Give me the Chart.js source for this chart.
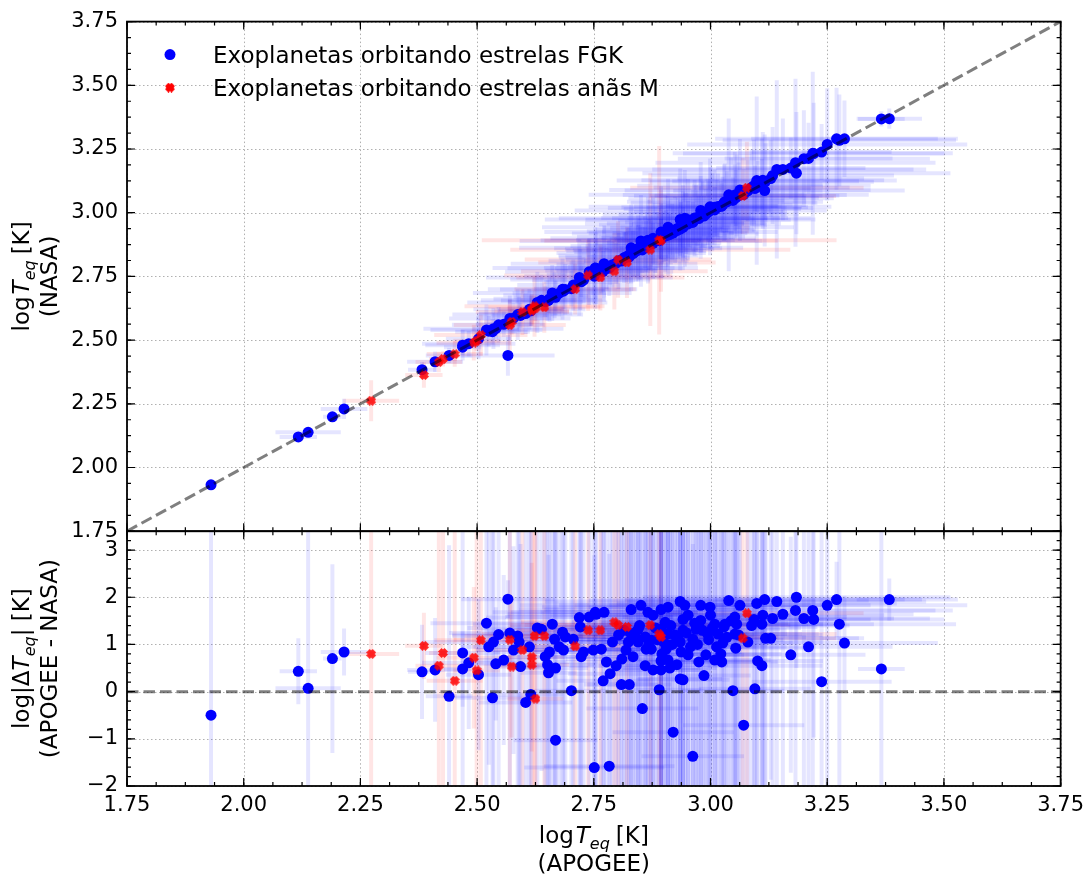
<!DOCTYPE html>
<html>
<head>
<meta charset="utf-8">
<script src="https://cdn.jsdelivr.net/npm/chart.js@4.4.1/dist/chart.umd.min.js"></script>
<style>
  html, body { margin: 0; padding: 0; background: #fff; }
  #wrap { width: 1091px; height: 884px; }
</style>
</head>
<body>
<div id="wrap"><canvas id="teq-chart" width="1091" height="884"></canvas></div>
<script>
// axis limits
const xMin = 1.75, xMax = 3.75;
const nasaMin = 1.75, nasaMax = 3.75;
const deltaMin = -2, deltaMax = 3.4;

// planets around FGK stars: log Teq (APOGEE), log Teq (NASA), log|dTeq| and their errors
const fgkApogee = [
  1.930, 2.117, 2.138, 2.190, 2.215, 2.382, 2.410, 2.440, 2.469, 2.469,
  2.482, 2.503, 2.520, 2.525, 2.533, 2.535, 2.540, 2.546, 2.557, 2.566,
  2.570, 2.578, 2.587, 2.590, 2.593, 2.604, 2.612, 2.615, 2.629, 2.638,
  2.646, 2.651, 2.653, 2.655, 2.661, 2.666, 2.668, 2.668, 2.676, 2.683,
  2.685, 2.689, 2.702, 2.706, 2.719, 2.721, 2.723, 2.728, 2.740, 2.749,
  2.751, 2.753, 2.755, 2.766, 2.770, 2.772, 2.777, 2.783, 2.785, 2.798,
  2.809, 2.810, 2.819, 2.824, 2.826, 2.830, 2.830, 2.834, 2.841, 2.845,
  2.845, 2.851, 2.854, 2.860, 2.860, 2.862, 2.866, 2.873, 2.873, 2.877,
  2.877, 2.890, 2.894, 2.894, 2.894, 2.894, 2.896, 2.903, 2.905, 2.909,
  2.909, 2.909, 2.913, 2.920, 2.924, 2.928, 2.935, 2.935, 2.935, 2.937,
  2.941, 2.941, 2.941, 2.945, 2.952, 2.952, 2.962, 2.962, 2.969, 2.975,
  2.979, 2.979, 2.986, 2.990, 2.994, 2.999, 3.000, 3.009, 3.009, 3.016,
  3.022, 3.024, 3.026, 3.029, 3.031, 3.039, 3.048, 3.052, 3.052, 3.054,
  3.056, 3.063, 3.071, 3.093, 3.095, 3.099, 3.101, 3.110, 3.110, 3.112,
  3.116, 3.118, 3.129, 3.133, 3.142, 3.155, 3.172, 3.182, 3.184, 3.200,
  3.210, 3.219, 3.221, 3.238, 3.250, 3.270, 3.276, 3.287, 3.366, 3.383,
  2.790, 2.803, 2.815, 2.838, 2.848, 2.868, 2.882, 2.886, 2.900, 2.915,
  2.918, 2.930, 2.948, 2.957, 2.966, 2.972, 2.983, 2.996, 3.004, 3.013,
  3.035, 3.044, 3.060, 3.080, 3.088
];
const fgkApogeeErr = [
  0.010, 0.040, 0.070, 0.020, 0.050, 0.030, 0.060, 0.050, 0.080, 0.040,
  0.100, 0.070, 0.120, 0.060, 0.080, 0.150, 0.050, 0.100, 0.060, 0.100,
  0.130, 0.080, 0.140, 0.090, 0.060, 0.100, 0.120, 0.070, 0.150, 0.130,
  0.080, 0.100, 0.060, 0.120, 0.170, 0.110, 0.070, 0.090, 0.100, 0.160,
  0.090, 0.140, 0.080, 0.120, 0.200, 0.150, 0.080, 0.110, 0.180, 0.100,
  0.150, 0.220, 0.190, 0.120, 0.100, 0.200, 0.110, 0.140, 0.090, 0.100,
  0.080, 0.120, 0.130, 0.150, 0.090, 0.240, 0.160, 0.110, 0.150, 0.180,
  0.140, 0.260, 0.120, 0.100, 0.160, 0.130, 0.230, 0.120, 0.150, 0.100,
  0.220, 0.090, 0.250, 0.180, 0.110, 0.100, 0.130, 0.200, 0.130, 0.270,
  0.170, 0.110, 0.100, 0.130, 0.170, 0.110, 0.290, 0.150, 0.090, 0.130,
  0.210, 0.180, 0.100, 0.270, 0.220, 0.120, 0.160, 0.110, 0.180, 0.120,
  0.270, 0.210, 0.100, 0.130, 0.170, 0.260, 0.220, 0.200, 0.120, 0.180,
  0.130, 0.120, 0.150, 0.200, 0.210, 0.300, 0.110, 0.240, 0.180, 0.150,
  0.220, 0.280, 0.130, 0.250, 0.120, 0.300, 0.140, 0.240, 0.130, 0.260,
  0.300, 0.200, 0.200, 0.260, 0.320, 0.280, 0.160, 0.300, 0.330, 0.270,
  0.180, 0.300, 0.280, 0.150, 0.300, 0.260, 0.250, 0.200, 0.050, 0.070,
  0.120, 0.150, 0.140, 0.130, 0.160, 0.130, 0.170, 0.150, 0.140, 0.180,
  0.150, 0.160, 0.170, 0.140, 0.200, 0.150, 0.180, 0.160, 0.190, 0.150,
  0.170, 0.220, 0.180, 0.160, 0.210
];
const fgkNasa = [
  1.932, 2.120, 2.138, 2.199, 2.230, 2.384, 2.415, 2.440, 2.480, 2.472,
  2.486, 2.505, 2.540, 2.535, 2.533, 2.545, 2.545, 2.560, 2.562, 2.440,
  2.585, 2.586, 2.600, 2.600, 2.597, 2.604, 2.621, 2.615, 2.648, 2.656,
  2.651, 2.655, 2.656, 2.662, 2.685, 2.676, 2.672, 2.668, 2.684, 2.700,
  2.692, 2.699, 2.702, 2.716, 2.746, 2.738, 2.729, 2.735, 2.768, 2.756,
  2.751, 2.783, 2.782, 2.773, 2.770, 2.800, 2.781, 2.783, 2.787, 2.802,
  2.810, 2.815, 2.825, 2.832, 2.827, 2.862, 2.842, 2.839, 2.850, 2.860,
  2.853, 2.889, 2.854, 2.863, 2.869, 2.868, 2.892, 2.879, 2.880, 2.880,
  2.900, 2.890, 2.924, 2.906, 2.897, 2.896, 2.901, 2.918, 2.910, 2.943,
  2.919, 2.912, 2.915, 2.920, 2.933, 2.930, 2.973, 2.941, 2.936, 2.942,
  2.958, 2.953, 2.942, 2.978, 2.972, 2.956, 2.969, 2.962, 2.978, 2.977,
  3.009, 2.994, 2.987, 2.994, 3.003, 3.023, 3.018, 3.021, 3.011, 3.024,
  3.025, 3.026, 3.031, 3.039, 3.043, 3.070, 3.048, 3.069, 3.059, 3.058,
  3.067, 3.089, 3.071, 3.106, 3.095, 3.126, 3.103, 3.121, 3.112, 3.127,
  3.087, 3.123, 3.134, 3.146, 3.170, 3.170, 3.175, 3.196, 3.155, 3.212,
  3.213, 3.233, 3.232, 3.238, 3.268, 3.290, 3.284, 3.290, 3.368, 3.369,
  2.796, 2.811, 2.824, 2.846, 2.857, 2.875, 2.893, 2.893, 2.907, 2.927,
  2.925, 2.939, 2.958, 2.963, 2.979, 2.978, 2.993, 3.003, 3.015, 3.019,
  3.043, 3.057, 3.067, 3.086, 3.099
];
const fgkNasaErr = [
  0.010, 0.015, 0.015, 0.020, 0.040, 0.030, 0.040, 0.030, 0.060, 0.030,
  0.050, 0.080, 0.100, 0.060, 0.050, 0.080, 0.040, 0.070, 0.050, 0.080,
  0.090, 0.060, 0.100, 0.070, 0.050, 0.080, 0.080, 0.060, 0.120, 0.100,
  0.060, 0.080, 0.050, 0.090, 0.110, 0.090, 0.060, 0.070, 0.080, 0.120,
  0.070, 0.100, 0.070, 0.100, 0.150, 0.120, 0.060, 0.090, 0.130, 0.080,
  0.110, 0.160, 0.140, 0.090, 0.080, 0.150, 0.080, 0.110, 0.070, 0.080,
  0.060, 0.090, 0.100, 0.110, 0.070, 0.170, 0.120, 0.090, 0.120, 0.130,
  0.100, 0.180, 0.090, 0.080, 0.120, 0.100, 0.170, 0.090, 0.110, 0.080,
  0.160, 0.070, 0.180, 0.130, 0.080, 0.080, 0.100, 0.150, 0.100, 0.190,
  0.130, 0.090, 0.080, 0.100, 0.130, 0.090, 0.200, 0.110, 0.070, 0.100,
  0.150, 0.130, 0.080, 0.190, 0.160, 0.090, 0.120, 0.080, 0.130, 0.090,
  0.190, 0.150, 0.080, 0.100, 0.130, 0.190, 0.160, 0.150, 0.090, 0.130,
  0.100, 0.090, 0.110, 0.150, 0.150, 0.300, 0.090, 0.170, 0.130, 0.110,
  0.160, 0.200, 0.100, 0.180, 0.090, 0.330, 0.100, 0.170, 0.100, 0.190,
  0.220, 0.150, 0.150, 0.190, 0.350, 0.200, 0.120, 0.330, 0.240, 0.190,
  0.140, 0.320, 0.200, 0.110, 0.220, 0.200, 0.180, 0.150, 0.030, 0.040,
  0.090, 0.110, 0.100, 0.100, 0.120, 0.100, 0.130, 0.110, 0.100, 0.130,
  0.110, 0.120, 0.120, 0.100, 0.150, 0.110, 0.130, 0.120, 0.140, 0.110,
  0.120, 0.160, 0.130, 0.120, 0.150
];
const fgkDelta = [
  -0.50, 0.43, 0.07, 0.70, 0.84, 0.42, 0.46, -0.10, 0.82, 0.48,
  0.61, 0.36, 1.45, 0.95, -0.13, 1.05, 0.59, 1.21, 0.67, 1.96,
  1.24, 0.88, 1.18, 1.05, 0.53, -0.23, 0.95, -0.06, 1.35, 1.32,
  0.74, 0.57, 0.40, 0.84, 1.43, 1.11, 0.50, -1.03, 0.95, 1.26,
  0.88, 1.16, 0.02, 1.11, 1.57, 1.37, 0.74, 0.84, 1.58, 0.88,
  -1.61, 1.68, 1.64, 0.90, 0.23, 1.68, 0.63, -1.58, 0.38, 0.55,
  0.15, 0.69, 0.88, 1.05, 0.15, 1.74, 1.22, 0.74, 1.11, 1.32,
  1.05, 1.83, -0.36, 0.55, 1.16, 0.90, 1.68, 0.90, 1.09, 0.46,
  1.62, 0.04, 1.74, 1.32, 0.65, 0.46, 0.80, 1.47, 0.90, 1.79,
  1.22, 0.67, 0.50, -0.86, 1.20, 0.57, 1.91, 1.05, 0.27, 0.84,
  1.53, 1.30, 0.25, 1.83, 1.62, 0.78, 1.11, -1.37, 1.32, 0.63,
  1.83, 1.51, 0.34, 0.78, 1.22, 1.79, 1.62, 1.43, 0.67, 1.22,
  0.80, 0.63, 1.03, 1.37, 1.43, 1.93, 0.02, 1.58, 1.22, 0.92,
  1.43, 1.83, -0.71, 1.53, 0.06, 1.87, 0.65, 1.43, 0.55, 1.62,
  1.95, 1.13, 1.13, 1.55, 1.91, 1.64, 0.78, 1.72, 2.00, 1.55,
  0.95, 1.72, 1.53, 0.21, 1.83, 1.95, 1.43, 1.03, 0.48, 1.95,
  1.05, 1.20, 1.30, 1.25, 1.40, 1.00, 1.35, 1.10, 1.05, 1.40,
  1.00, 1.15, 1.25, 0.95, 1.45, 1.00, 1.30, 1.10, 1.35, 0.95,
  1.15, 1.50, 1.20, 1.05, 1.40
];
const fgkDeltaErr = [
  4.5, 0.70, 4.5, 2.0, 0.50, 1.0, 1.1, 3.2, 4.5, 0.8,
  1.4, 1.6, 4.5, 2.5, 4.5, 4.5, 1.2, 4.5, 1.8, 0.4,
  4.5, 2.2, 4.5, 4.5, 2.6, 4.5, 4.5, 4.5, 4.5, 3.0,
  4.5, 4.5, 2.5, 4.5, 4.5, 4.5, 3.0, 4.5, 4.5, 4.5,
  4.5, 4.5, 4.5, 4.5, 4.5, 4.5, 3.5, 4.5, 4.5, 4.5,
  4.5, 4.5, 4.5, 4.5, 4.5, 4.5, 4.5, 4.5, 4.5, 4.5,
  4.5, 4.5, 4.5, 4.5, 4.5, 4.5, 4.5, 4.5, 4.5, 4.5,
  4.5, 4.5, 4.5, 4.5, 4.5, 4.5, 4.5, 4.5, 4.5, 4.5,
  4.5, 4.5, 4.5, 4.5, 4.5, 4.5, 4.5, 4.5, 4.5, 4.5,
  4.5, 4.5, 4.5, 4.5, 4.5, 4.5, 4.5, 4.5, 4.5, 4.5,
  4.5, 4.5, 4.5, 4.5, 4.5, 4.5, 4.5, 4.5, 4.5, 4.5,
  4.5, 4.5, 4.5, 4.5, 4.5, 4.5, 4.5, 4.5, 4.5, 4.5,
  4.5, 4.5, 4.5, 4.5, 4.5, 4.5, 4.5, 4.5, 4.5, 4.5,
  4.5, 4.5, 2.0, 4.5, 4.5, 4.5, 4.5, 4.5, 3.5, 4.5,
  4.5, 4.5, 3.0, 4.5, 4.5, 4.5, 2.5, 4.5, 1.5, 4.5,
  3.0, 4.5, 2.5, 4.5, 4.5, 0.8, 4.5, 1.0, 4.5, 0.45,
  4.5, 4.5, 4.5, 4.5, 4.5, 4.5, 4.5, 4.5, 4.5, 4.5,
  4.5, 4.5, 4.5, 4.5, 4.5, 4.5, 4.5, 4.5, 4.5, 4.5,
  4.5, 4.5, 4.5, 4.5, 4.5
];

// planets around M dwarfs
const mApogee = [
  2.273, 2.386, 2.418, 2.427, 2.452, 2.493, 2.499, 2.508, 2.570, 2.574,
  2.597, 2.617, 2.617, 2.623, 2.625, 2.644, 2.710, 2.738, 2.764, 2.794,
  2.802, 2.821, 2.871, 2.890, 2.894, 3.069, 3.078
];
const mApogeeErr = [
  0.060, 0.040, 0.050, 0.030, 0.060, 0.080, 0.050, 0.100, 0.120, 0.060,
  0.100, 0.070, 0.080, 0.150, 0.060, 0.120, 0.130, 0.180, 0.180, 0.200,
  0.200, 0.190, 0.300, 0.380, 0.250, 0.200, 0.250
];
const mNasa = [
  2.262, 2.363, 2.414, 2.426, 2.445, 2.490, 2.497, 2.520, 2.559, 2.572,
  2.610, 2.621, 2.615, 2.633, 2.625, 2.629, 2.700, 2.754, 2.746, 2.770,
  2.816, 2.805, 2.855, 2.892, 2.890, 3.066, 3.098
];
const mNasaErr = [
  0.080, 0.050, 0.040, 0.030, 0.050, 0.070, 0.040, 0.080, 0.100, 0.050,
  0.090, 0.060, 0.060, 0.120, 0.050, 0.100, 0.100, 0.140, 0.130, 0.150,
  0.150, 0.140, 0.300, 0.370, 0.200, 0.150, 0.180
];
const mDelta = [
  0.80, 0.97, 0.55, 0.82, 0.23, 0.72, 0.45, 1.09, 1.10, 0.53,
  0.88, 0.73, 0.57, 1.18, -0.15, 1.18, 0.96, 1.30, 1.30, 1.47,
  1.41, 1.37, 1.41, 1.22, 1.16, 1.13, 1.66
];
const mDeltaErr = [
  2.8, 0.7, 4.5, 4.5, 4.5, 1.5, 4.5, 4.5, 4.5, 1.5,
  4.5, 2.0, 4.5, 4.5, 4.5, 4.5, 4.5, 4.5, 4.5, 4.5,
  4.5, 4.5, 4.5, 4.5, 4.5, 4.5, 4.5
];

const legendLabels = ['Exoplanetas orbitando estrelas FGK', 'Exoplanetas orbitando estrelas anãs M'];

const FONT = '"DejaVu Sans", "Liberation Sans", sans-serif';
const tickFont = { family: FONT, size: 21 };
const LABEL_SIZE = 23;

function makePoints(xs, ys, xErr, yErr) {
  return xs.map((x, i) => ({ x: x, y: ys[i], xErr: xErr[i], yErr: yErr[i] }));
}

// filled "X" marker: thick diagonal arms, shallow notches on each side
function makeXMarker(size, color) {
  const c = document.createElement('canvas');
  c.width = size; c.height = size;
  const g = c.getContext('2d');
  const pts = [[-0.15,-0.5],[0,-0.35],[0.15,-0.5],[0.5,-0.15],[0.35,0],[0.5,0.15],
               [0.15,0.5],[0,0.35],[-0.15,0.5],[-0.5,0.15],[-0.35,0],[-0.5,-0.15]];
  g.fillStyle = color;
  g.beginPath();
  pts.forEach((p, i) => {
    const px = size / 2 + p[0] * size, py = size / 2 + p[1] * size;
    if (i) g.lineTo(px, py); else g.moveTo(px, py);
  });
  g.closePath();
  g.fill();
  return c;
}
const redMarker = makeXMarker(10, 'rgba(255,0,0,0.85)');
const redMarkerLegend = makeXMarker(10, 'rgb(255,0,0)');

function stepsBetween(min, max, step) {
  const out = [];
  const n = Math.round((max - min) / step);
  for (let i = 0; i <= n; i++) out.push(min + i * step);
  return out;
}

// mathtext-like label: parts are {t, s} with s = 'n' normal, 'i' italic, 'sub' italic subscript
function drawMath(ctx, parts, cx, baseline) {
  const sz = LABEL_SIZE;
  const fonts = { n: sz + 'px ' + FONT, i: 'italic ' + sz + 'px ' + FONT, sub: 'italic ' + Math.round(sz * 0.7) + 'px ' + FONT };
  let total = 0;
  parts.forEach(p => { ctx.font = fonts[p.s]; total += ctx.measureText(p.t).width + (p.gap || 0); });
  let x = cx - total / 2;
  parts.forEach(p => {
    ctx.font = fonts[p.s];
    ctx.fillText(p.t, x, baseline + (p.s === 'sub' ? 6 : 0));
    x += ctx.measureText(p.t).width + (p.gap || 0);
  });
}

const panels = [
  { y: 'yNasa', minor: 0.0625 },
  { y: 'yDelta', minor: 0.2 }
];

const panelPlugin = {
  id: 'panelPlugin',
  beforeDatasetsDraw(chart) {
    const ctx = chart.ctx;
    const xs = chart.scales.x;
    // dotted grid
    ctx.save();
    ctx.strokeStyle = '#b0b0b0';
    ctx.lineWidth = 1;
    ctx.setLineDash([1.5, 2.5]);
    panels.forEach(p => {
      const ys = chart.scales[p.y];
      xs.ticks.forEach(t => {
        const px = Math.round(xs.getPixelForValue(t.value)) + 0.5;
        ctx.beginPath(); ctx.moveTo(px, ys.top); ctx.lineTo(px, ys.bottom); ctx.stroke();
      });
      ys.ticks.forEach(t => {
        const py = Math.round(ys.getPixelForValue(t.value)) + 0.5;
        ctx.beginPath(); ctx.moveTo(xs.left, py); ctx.lineTo(xs.right, py); ctx.stroke();
      });
    });
    ctx.restore();

    // error bars under the markers
    chart.data.datasets.forEach(ds => {
      if (!ds.errorColor) return;
      const ys = chart.scales[ds.yAxisID];
      ctx.save();
      ctx.beginPath();
      ctx.rect(xs.left, ys.top, xs.width, ys.height);
      ctx.clip();
      ctx.strokeStyle = ds.errorColor;
      ctx.lineWidth = 4;
      ds.data.forEach(pt => {
        const px = xs.getPixelForValue(pt.x), py = ys.getPixelForValue(pt.y);
        ctx.beginPath();
        ctx.moveTo(xs.getPixelForValue(pt.x - pt.xErr), py);
        ctx.lineTo(xs.getPixelForValue(pt.x + pt.xErr), py);
        ctx.stroke();
        ctx.beginPath();
        ctx.moveTo(px, ys.getPixelForValue(pt.y - pt.yErr));
        ctx.lineTo(px, ys.getPixelForValue(pt.y + pt.yErr));
        ctx.stroke();
      });
      ctx.restore();
    });
  },
  afterDatasetsDraw(chart) {
    const ctx = chart.ctx;
    const xs = chart.scales.x;
    const xMinor = stepsBetween(xMin, xMax, 0.0625);
    ctx.save();
    ctx.strokeStyle = '#000';
    panels.forEach(p => {
      const ys = chart.scales[p.y];
      const yMinor = stepsBetween(ys.min, ys.max, p.minor);
      ctx.lineWidth = 1.2;
      // inward ticks on all four sides
      const tickX = (v, len) => {
        const px = xs.getPixelForValue(v);
        ctx.beginPath();
        ctx.moveTo(px, ys.bottom); ctx.lineTo(px, ys.bottom - len);
        ctx.moveTo(px, ys.top); ctx.lineTo(px, ys.top + len);
        ctx.stroke();
      };
      const tickY = (v, len) => {
        const py = ys.getPixelForValue(v);
        ctx.beginPath();
        ctx.moveTo(xs.left, py); ctx.lineTo(xs.left + len, py);
        ctx.moveTo(xs.right, py); ctx.lineTo(xs.right - len, py);
        ctx.stroke();
      };
      xMinor.forEach(v => tickX(v, 4));
      xs.ticks.forEach(t => tickX(t.value, 8));
      yMinor.forEach(v => tickY(v, 4));
      ys.ticks.forEach(t => tickY(t.value, 8));
      ctx.lineWidth = 1.8;
      ctx.strokeRect(xs.left, ys.top, xs.width, ys.height);
    });
    ctx.restore();
  },
  afterDraw(chart) {
    const ctx = chart.ctx;
    const xs = chart.scales.x;
    const yTop = chart.scales.yNasa, yBot = chart.scales.yDelta;
    ctx.save();
    ctx.fillStyle = '#000';
    ctx.textBaseline = 'alphabetic';

    // legend
    const lx = xs.left + 43;
    ctx.beginPath();
    ctx.fillStyle = 'rgb(0,0,255)';
    ctx.arc(lx, yTop.top + 33, 5.5, 0, Math.PI * 2);
    ctx.fill();
    ctx.drawImage(redMarkerLegend, lx - 5, yTop.top + 61, 10, 10);
    ctx.fillStyle = '#000';
    ctx.font = LABEL_SIZE + 'px ' + FONT;
    ctx.fillText(legendLabels[0], lx + 43, yTop.top + 41);
    ctx.fillText(legendLabels[1], lx + 43, yTop.top + 74);

    // x axis title
    const cx = (xs.left + xs.right) / 2;
    drawMath(ctx, [{ t: 'log', s: 'n', gap: 2 }, { t: 'T', s: 'i' }, { t: 'eq', s: 'sub', gap: 6 }, { t: '[K]', s: 'n' }], cx, 843);
    drawMath(ctx, [{ t: '(APOGEE)', s: 'n' }], cx, 871);

    // y axis titles, rotated
    const yTitle = (lines, cy) => {
      ctx.save();
      ctx.translate(0, cy);
      ctx.rotate(-Math.PI / 2);
      drawMath(ctx, lines[0], 0, 29);
      drawMath(ctx, lines[1], 0, 57);
      ctx.restore();
    };
    yTitle([
      [{ t: 'log', s: 'n', gap: 2 }, { t: 'T', s: 'i' }, { t: 'eq', s: 'sub', gap: 6 }, { t: '[K]', s: 'n' }],
      [{ t: '(NASA)', s: 'n' }]
    ], (yTop.top + yTop.bottom) / 2);
    yTitle([
      [{ t: 'log|\u0394', s: 'n' }, { t: 'T', s: 'i' }, { t: 'eq', s: 'sub' }, { t: '| [K]', s: 'n' }],
      [{ t: '(APOGEE - NASA)', s: 'n' }]
    ], (yBot.top + yBot.bottom) / 2);
    ctx.restore();
  }
};

const refLine = [{ x: xMin, y: nasaMin }, { x: xMax, y: nasaMax }];
const zeroLine = [{ x: xMin, y: 0 }, { x: xMax, y: 0 }];

new Chart(document.getElementById('teq-chart'), {
  type: 'scatter',
  data: {
    datasets: [
      { data: refLine, yAxisID: 'yNasa', showLine: true, pointRadius: 0, borderColor: 'rgba(0,0,0,0.5)', borderWidth: 3, borderDash: [11.5, 5], order: 0 },
      { data: zeroLine, yAxisID: 'yDelta', showLine: true, pointRadius: 0, borderColor: 'rgba(0,0,0,0.5)', borderWidth: 3, borderDash: [11.5, 5], order: 0 },
      { label: legendLabels[1], data: makePoints(mApogee, mNasa, mApogeeErr, mNasaErr), yAxisID: 'yNasa',
        pointStyle: redMarker, pointRadius: 5, errorColor: 'rgba(255,0,0,0.1)', order: 1 },
      { data: makePoints(mApogee, mDelta, mApogeeErr, mDeltaErr), yAxisID: 'yDelta',
        pointStyle: redMarker, pointRadius: 5, errorColor: 'rgba(255,0,0,0.1)', order: 1 },
      { label: legendLabels[0], data: makePoints(fgkApogee, fgkNasa, fgkApogeeErr, fgkNasaErr), yAxisID: 'yNasa',
        pointRadius: 5.5, pointBorderWidth: 0, backgroundColor: 'rgb(0,0,255)', errorColor: 'rgba(0,0,255,0.1)', order: 2 },
      { data: makePoints(fgkApogee, fgkDelta, fgkApogeeErr, fgkDeltaErr), yAxisID: 'yDelta',
        pointRadius: 5.5, pointBorderWidth: 0, backgroundColor: 'rgb(0,0,255)', errorColor: 'rgba(0,0,255,0.1)', order: 2 }
    ]
  },
  options: {
    responsive: false,
    maintainAspectRatio: false,
    animation: false,
    events: [],
    layout: { padding: { left: 0, right: 27, top: 15, bottom: 0 } },
    plugins: { legend: { display: false }, tooltip: { enabled: false } },
    scales: {
      x: {
        type: 'linear', position: 'bottom', min: xMin, max: xMax,
        grid: { display: false, drawTicks: false }, border: { display: false },
        ticks: { stepSize: 0.25, includeBounds: false, padding: 7, color: '#000', font: tickFont, maxRotation: 0,
                 callback: v => v.toFixed(2) },
        afterFit: s => { s.height = 98; }
      },
      yDelta: {
        type: 'linear', position: 'left', stack: 'panels', stackWeight: 1,
        min: deltaMin, max: deltaMax,
        grid: { display: false, drawTicks: false }, border: { display: false },
        ticks: { stepSize: 1, includeBounds: false, padding: 9, color: '#000', font: tickFont,
                 callback: v => String(Math.round(v)).replace('-', '\u2212') },
        afterFit: s => { s.width = 127; }
      },
      yNasa: {
        type: 'linear', position: 'left', stack: 'panels', stackWeight: 2,
        min: nasaMin, max: nasaMax,
        grid: { display: false, drawTicks: false }, border: { display: false },
        ticks: { stepSize: 0.25, includeBounds: false, padding: 9, color: '#000', font: tickFont,
                 callback: v => v.toFixed(2) },
        afterFit: s => { s.width = 127; }
      }
    }
  },
  plugins: [panelPlugin]
});
</script>
</body>
</html>
